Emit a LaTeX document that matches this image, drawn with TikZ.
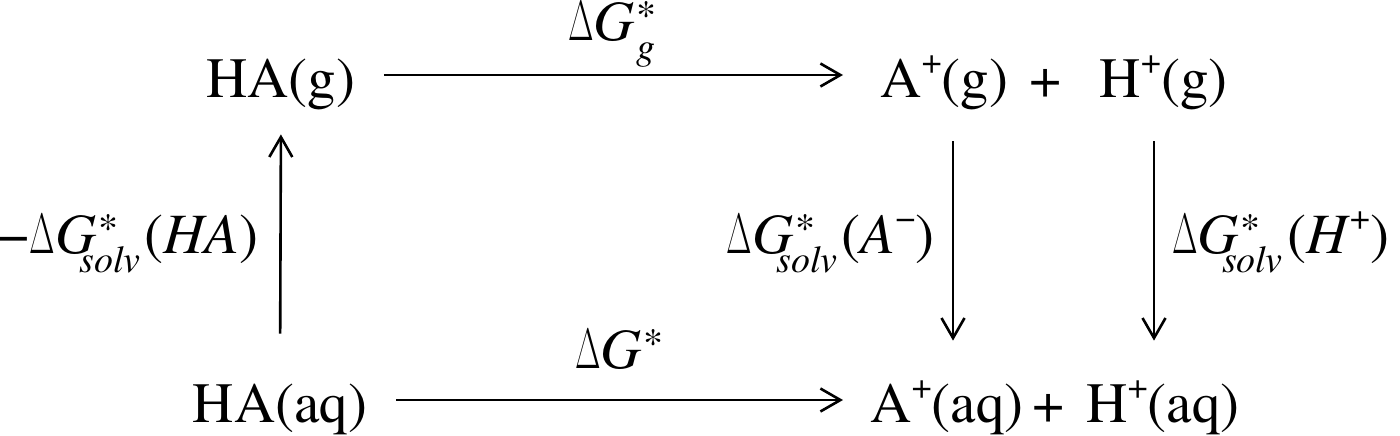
\RequirePackage{fix-cm}
\documentclass[tikz,border=0pt]{standalone}
\usepackage{fontspec}
\setmainfont{texgyretermes}[Extension=.otf, UprightFont=*-regular, ItalicFont=*-italic, BoldFont=*-bold, BoldItalicFont=*-bolditalic]
\usetikzlibrary{arrows.meta}
\newcommand{\Dl}{\scalebox{0.58}[1]{\(\Delta\)}}
% star after G, subscript tucked under the G
\newcommand{\SupSub}[3]{\makebox[0pt][l]{\kern0.03em\raisebox{0.2em}{\fontsize{20}{20}\selectfont #1}}\kern#3\raisebox{-0.34em}{\fontsize{19}{19}\selectfont\itshape #2}}
\newcommand{\Sup}[1]{\kern0.03em\raisebox{0.2em}{\fontsize{20}{20}\selectfont #1}}
\newcommand{\ion}[1]{\raisebox{0.42em}{\fontsize{18}{18}\selectfont #1}}
\tikzset{
  txt/.style={inner sep=0pt, font=\fontsize{28.5}{34}\selectfont, text height=20pt, text depth=6pt},
  lbl/.style={inner sep=0pt, font=\fontsize{28.5}{34}\selectfont},
  arr/.style={line width=1.3pt, -{Straight Barb[length=10pt,width=11.5pt,line width=1.3pt]}},
}
\begin{document}
\begin{tikzpicture}[x=0.5pt,y=-0.5pt]
\useasboundingbox[fill=white] (0,0) rectangle (1400,435);
% species
\node[txt,anchor=base] (HAg) at (281,97) {HA(g)};
\node[txt,anchor=base west] (Ag) at (880,97) {A\ion{+}(g)};
\node[txt,anchor=base] (pT) at (1046,97) {+};
\node[txt,anchor=base east] (Hg) at (1228,97) {H\ion{+}(g)};
\node[txt,anchor=base] (HAaq) at (280,422) {HA(aq)};
\node[txt,anchor=base west] (Aaq) at (870,422) {A\ion{+}(aq)};
\node[txt,anchor=base] (pB) at (1049,422) {+};
\node[txt,anchor=base west] (Haq) at (1086,422) {H\ion{+}(aq)};
% labels
\node[lbl,anchor=base west] (lT) at (568,40) {\Dl\textit{G}\SupSub{*}{g}{0.02em}\hspace{0.1em}};
\node[lbl,anchor=base west] (lB) at (575,368) {\Dl\textit{G}\Sup{*}};
\node[lbl,anchor=base east] (lL) at (259,253) {−\Dl\textit{G}\SupSub{*}{solv}{-0.3em}\kern0.08em(\textit{HA})};
\node[lbl,anchor=base east] (lA) at (935,253) {\Dl\textit{G}\SupSub{*}{solv}{-0.3em}\kern0.08em(\textit{A}\ion{−})};
\node[lbl,anchor=base west] (lH) at (1172,253) {\Dl\textit{G}\SupSub{*}{solv}{-0.3em}\kern0.08em(\textit{H}\ion{+})};
% columns
\coordinate (colA) at (953,0);
\coordinate (colH) at (1154,0);
% arrows
\draw[arr] ([xshift=14pt,yshift=11pt]HAg.base east) -- ([xshift=-18.5pt,yshift=11pt]Ag.base west);
\draw[arr] ([xshift=14.5pt,yshift=11pt]HAaq.base east) -- ([xshift=-13.5pt,yshift=11pt]Aaq.base west);
\draw[arr, shorten <=24pt, shorten >=12.5pt] (HAaq.north) -- (HAg.south);
\draw[arr, shorten <=16pt, shorten >=20.5pt] (Ag.south -| colA) -- (Aaq.north -| colA);
\draw[arr, shorten <=16pt, shorten >=20.5pt] (Hg.south -| colH) -- (Haq.north -| colH);
\end{tikzpicture}
\end{document}
